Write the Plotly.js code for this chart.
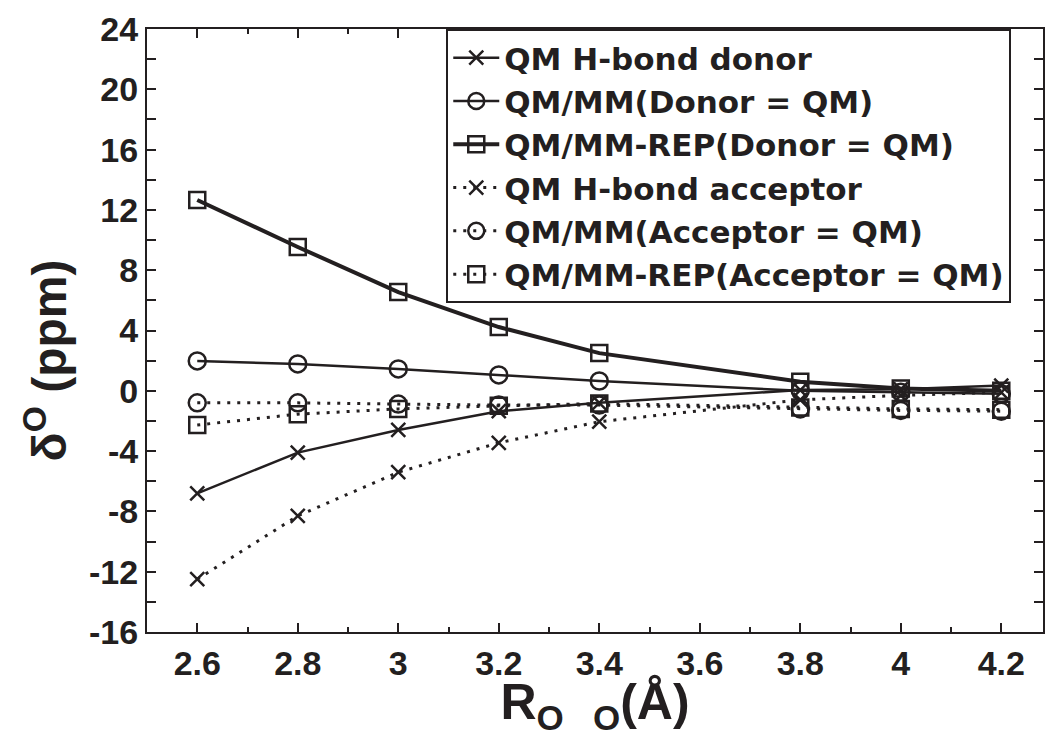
<!DOCTYPE html>
<html>
<head>
<meta charset="utf-8">
<script src="https://cdn.plot.ly/plotly-3.0.1.min.js"></script>
<style>html,body{margin:0;padding:0;background:#fff;}#chart{width:1045px;height:737px;}</style>
</head>
<body>
<div id="chart"></div>
<script>
const distances = [2.6, 2.8, 3.0, 3.2, 3.4, 3.8, 4.0, 4.2];
const donorQM = [-6.8, -4.1, -2.6, -1.35, -0.8, 0.05, 0.1, 0.35];
const donorQMMM = [1.98, 1.78, 1.45, 1.05, 0.65, 0.0, -0.1, -0.2];
const donorREP = [12.66, 9.54, 6.55, 4.23, 2.5, 0.6, 0.15, 0.0];
const acceptorQM = [-12.5, -8.3, -5.4, -3.45, -2.05, -0.6, -0.3, -0.1];
const acceptorQMMM = [-0.8, -0.8, -0.88, -0.95, -0.95, -1.2, -1.3, -1.35];
const acceptorREP = [-2.27, -1.55, -1.2, -1.0, -0.85, -1.1, -1.2, -1.25];
const seriesNames = [
  'QM H-bond donor',
  'QM/MM(Donor = QM)',
  'QM/MM-REP(Donor = QM)',
  'QM H-bond acceptor',
  'QM/MM(Acceptor = QM)',
  'QM/MM-REP(Acceptor = QM)'
];
const yTickVals = [-16, -12, -8, -4, 0, 4, 8, 12, 16, 20, 24];
const yTickText = ['-16', '-12', '-8', '-4', '0', '4', '8', '12', '16', '20', '24'];
const xTickVals = [2.6, 2.8, 3.0, 3.2, 3.4, 3.6, 3.8, 4.0, 4.2];
const xTickText = ['2.6', '2.8', '3', '3.2', '3.4', '3.6', '3.8', '4', '4.2'];
const xTitle = 'R<sub>O   O</sub>(Å)';
const yTitle = 'δ<sup>O</sup> (ppm)';

const ink = '#231f20';
const fam = 'Liberation Sans, Arial, sans-serif';
const dotted = '3px,7px';
function mk(y, name, symbol, dash, lw, msize) {
  return {
    x: distances, y: y, name: name, type: 'scatter', mode: 'lines+markers',
    line: {color: ink, width: lw, dash: dash},
    marker: {symbol: symbol, size: msize, color: ink, line: {color: ink, width: 2.5}}
  };
}
const data = [
  mk(donorQM, seriesNames[0], 'x-thin-open', 'solid', 2.5, 14),
  mk(donorQMMM, seriesNames[1], 'circle-open', 'solid', 2.5, 17),
  mk(donorREP, seriesNames[2], 'square-open', 'solid', 4, 16),
  mk(acceptorQM, seriesNames[3], 'x-thin-open', dotted, 3, 14),
  mk(acceptorQMMM, seriesNames[4], 'circle-open', dotted, 3, 17),
  mk(acceptorREP, seriesNames[5], 'square-open', dotted, 3, 16)
];
const tickFont = {family: fam, size: 34, color: ink, weight: 'bold'};
const layout = {
  width: 1045, height: 737,
  margin: {l: 147, r: 2, t: 29, b: 105},
  paper_bgcolor: '#fff', plot_bgcolor: '#fff',
  showlegend: true,
  legend: {
    x: 0.334, xanchor: 'left', y: 1, yanchor: 'top',
    bgcolor: '#fff', bordercolor: ink, borderwidth: 2,
    font: {family: 'DejaVu Sans, sans-serif', size: 31, color: ink, weight: 'bold'},
    itemwidth: 46, tracegroupgap: 0
  },
  xaxis: {
    range: [2.5, 4.283], tickvals: xTickVals, ticktext: xTickText,
    showgrid: false, zeroline: false, showline: true, linecolor: ink, linewidth: 2,
    mirror: 'ticks', ticks: 'inside', ticklen: 9, tickwidth: 2, tickcolor: ink,
    minor: {dtick: 0.1, ticks: 'inside', ticklen: 5, tickwidth: 2, tickcolor: ink},
    tickfont: tickFont,
    title: {text: xTitle, font: {family: fam, size: 50, color: ink, weight: 'bold'}, standoff: 18}
  },
  yaxis: {
    range: [-16, 24], tickvals: yTickVals, ticktext: yTickText,
    showgrid: false, zeroline: false, showline: true, linecolor: ink, linewidth: 2,
    mirror: 'ticks', ticks: 'inside', ticklen: 9, tickwidth: 2, tickcolor: ink,
    minor: {dtick: 2, ticks: 'inside', ticklen: 9, tickwidth: 2, tickcolor: ink},
    tickfont: tickFont
  },
  annotations: [{
    text: yTitle, textangle: -90, showarrow: false,
    xref: 'paper', yref: 'paper', x: -0.113, y: 0.45, xanchor: 'center', yanchor: 'middle',
    font: {family: fam, size: 48, color: ink, weight: 'bold'}
  }]
};
Plotly.newPlot('chart', data, layout, {displayModeBar: false, staticPlot: true});
</script>
</body>
</html>
